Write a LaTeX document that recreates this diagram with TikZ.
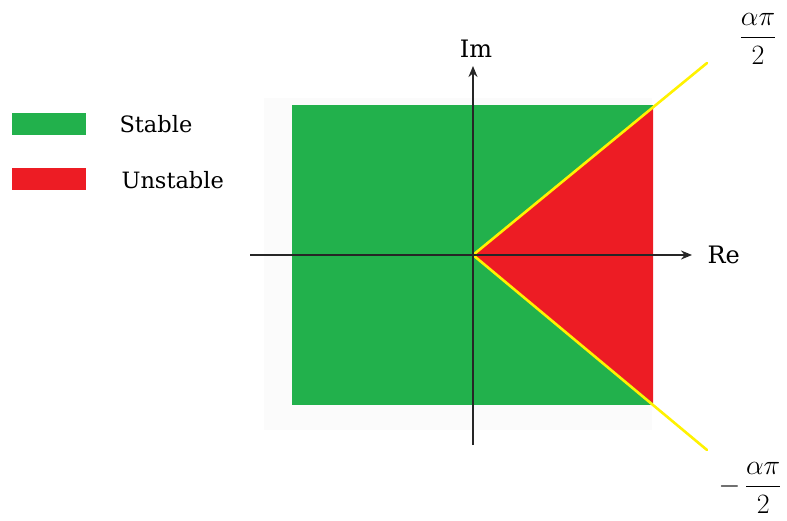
\RequirePackage{fix-cm}
\documentclass[tikz,border=0pt]{standalone}
\usepackage{amsmath}
\usepackage{fontspec}
\setmainfont{DejaVu Serif}
\usetikzlibrary{arrows.meta,positioning}
\definecolor{stablegreen}{HTML}{22B14C}
\definecolor{unstablered}{HTML}{ED1C24}
\definecolor{bordyellow}{HTML}{FFF200}
\tikzset{
  legbox/.style={draw=none, minimum width=74pt, minimum height=22pt, inner sep=0pt},
  legtext/.style={anchor=west, font=\fontsize{22.5}{26}\selectfont},
  axis/.style={-{Stealth[length=11pt,width=9pt]}, line width=1.7pt, black!85},
  axlabel/.style={font=\fontsize{24}{28}\selectfont},
  anglabel/.style={font=\fontsize{28}{32}\selectfont, inner sep=0pt},
  sector/.style={bordyellow, line width=2.6pt, line cap=round}
}
\begin{document}
\begin{tikzpicture}[x=1pt,y=-1pt]
\useasboundingbox (0,0) rectangle (787,521);
% Regions
\coordinate (O) at (473,255);
\coordinate (up) at (707,63);
\coordinate (dn) at (707,450);
\fill[black!1.5] (264,98) rectangle (652,430);
\fill[stablegreen] (292,105) rectangle (653,405);
\fill[unstablered] (O) -- (653,107) -- (653,403) -- cycle;
% Boundary rays
\draw[sector] (O) -- (up);
\draw[sector] (O) -- (dn);
% Axes
\coordinate (imlow) at (473,445);
\coordinate (imtop) at (473,66);
\coordinate (releft) at (250,255);
\coordinate (reright) at (692,255);
\draw[axis] (imlow) -- (imtop);
\draw[axis] (releft) -- (reright);
\node[axlabel] (im) at (476,49) {Im};
\node[axlabel, right=12pt of reright] (re) {Re};
% Angle labels
\node[anglabel] (aup) at (758,39) {$\dfrac{\alpha\pi}{2}$};
\node[anglabel] (adn) at (750,488) {$-\,\dfrac{\alpha\pi}{2}$};
% Legend
\node[legbox, fill=stablegreen] (kstable) at (49,124) {};
\node[legtext] (tstable) at (116,124) {Stable};
\node[legbox, fill=unstablered] (kunstable) at (49,179) {};
\node[legtext] (tunstable) at (118,180) {Unstable};
\end{tikzpicture}
\end{document}
